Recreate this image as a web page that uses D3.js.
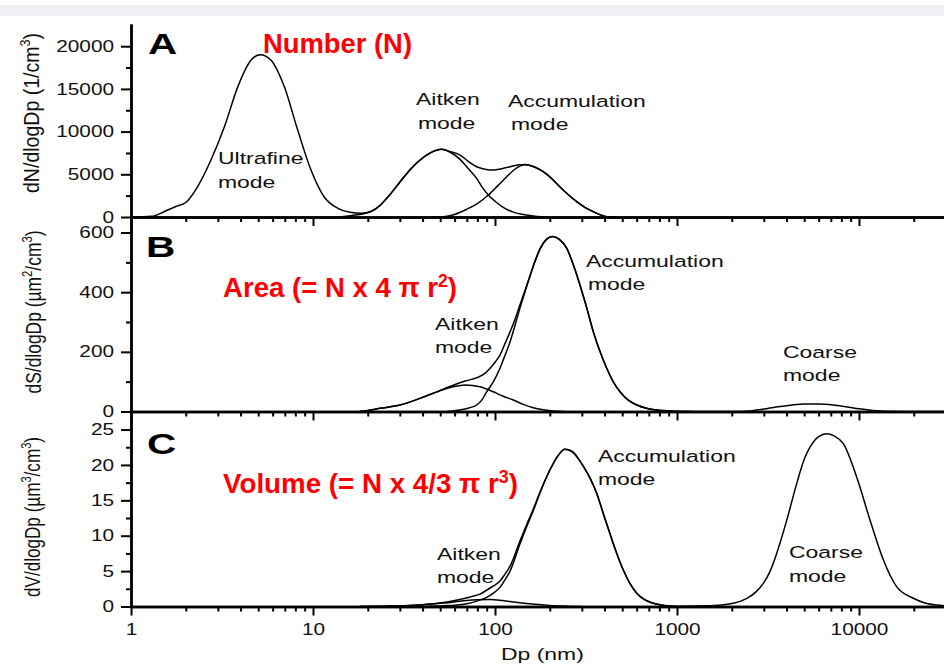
<!DOCTYPE html>
<html>
<head>
<meta charset="utf-8">
<script src="https://cdn.jsdelivr.net/npm/d3@7"></script>
<style>
  body { margin: 0; background: #fff; }
  svg { display: block; font-family: "Liberation Sans", Arial, sans-serif; }
  .tick text { font-size: 16px; fill: #111; transform-box: fill-box; }
  .yax .tick text { transform-origin: 100% 50%; transform: scaleX(1.3); }
  .xax .tick text { transform-origin: 50% 50%; transform: scaleX(1.3); }
  .domain { stroke: #000; stroke-width: 2.5; }
  .tick line { stroke: #000; stroke-width: 2; }
  .note { font-size: 17px; fill: #111; transform-box: fill-box; transform-origin: 0% 50%; transform: scaleX(1.35); }
  .letter { font-size: 30px; font-weight: bold; fill: #000; transform-box: fill-box; transform-origin: 0% 50%; transform: scaleX(1.35); }
  .red { font-size: 28px; font-weight: bold; fill: #f00; }
  .curve { fill: none; stroke: #000; stroke-width: 1.5; }
</style>
</head>
<body>
<div id="chart"></div>
<script>
"use strict";

// ---- data ----
const decadeTicks = [1, 10, 100, 1000, 10000];
const yTicksA = [0, 5000, 10000, 15000, 20000];
const yMinorA = [2500, 7500, 12500, 17500];
const yTicksB = [0, 200, 400, 600];
const yMinorB = [100, 300, 500];
const yTicksC = [0, 5, 10, 15, 20, 25];
const yMinorC = [2.5, 7.5, 12.5, 17.5, 22.5];

// A: number distribution
const aTotalDp = [1, 1.3, 1.52, 1.75, 2.0, 2.32, 2.75, 3.26, 3.86, 4.56, 5.13, 5.88, 6.96, 8.24, 9.75, 11.5, 13.7, 16, 18.4, 21, 23.3, 26.5, 30.1, 34, 38.7, 44, 50.9, 57, 64.3, 71, 79.3, 88, 97.9, 109, 121, 133, 146, 165, 184, 205, 227, 253, 281, 313, 347, 380, 411, 450];
const aTotalN = [0, 80, 620, 1200, 1700, 3540, 6670, 10560, 15240, 18360, 19000, 18360, 15240, 10180, 5500, 2370, 1020, 550, 430, 700, 1350, 2650, 4130, 5500, 6670, 7500, 7920, 7650, 7250, 6550, 5890, 5600, 5500, 5650, 5880, 6100, 6160, 5850, 5300, 4500, 3540, 2600, 1790, 1100, 620, 250, 40, 0];
const aAitkenDp = [14, 16, 18.4, 21, 23.3, 26.5, 30.1, 34, 38.7, 44, 50.9, 57, 64.3, 71, 79.3, 85, 91.9, 100, 111, 125, 149, 170, 195];
const aAitkenN = [0, 150, 330, 650, 1330, 2640, 4100, 5480, 6650, 7480, 7920, 7550, 6750, 5700, 4520, 3500, 2570, 1850, 1130, 600, 230, 70, 0];
const aAccumDp = [45, 52, 60, 69.9, 80, 91.9, 104, 116, 127, 137, 146, 165, 184, 205, 227, 253, 281, 313, 347, 380, 411, 450];
const aAccumN = [0, 40, 300, 900, 1560, 2570, 3700, 4720, 5500, 5950, 6120, 5850, 5300, 4500, 3540, 2600, 1790, 1100, 620, 250, 40, 0];

// B: surface area distribution
const bTotalDp = [18, 20, 23.3, 30.1, 38.7, 49.6, 59, 68.4, 79.3, 88, 94, 100, 106.5, 113, 121, 129, 137, 146, 156, 166, 177, 192, 207, 225, 248, 270, 293, 320, 347, 378, 411, 446, 486, 540, 601, 680, 773, 900, 1200, 2000, 2500, 3000, 3500, 4200, 5000, 6000, 7200, 8500, 10000, 12000, 14000, 17000, 30000];
const bTotalS = [0, 3, 10.7, 21.8, 44, 70, 88, 102, 113, 128, 145, 165, 189, 225, 267, 310, 357, 405, 457, 505, 547, 578, 587, 578, 547, 490, 424, 345, 267, 200, 145, 100, 66, 38, 21.8, 11, 5, 2, 0, 0, 2, 8, 15, 21, 25, 25, 22, 16, 9, 3, 0.5, 0, 0];
const bAitkenDp = [18, 20, 23.3, 30.1, 38.7, 49.6, 59, 68.4, 82.7, 97.9, 110, 126, 143, 162, 185, 209, 240];
const bAitkenS = [0, 3, 10.7, 21.8, 44, 69, 83, 89, 83, 66, 52, 38.5, 24, 12.8, 6, 2, 0];
const bAccumDp = [55, 64, 72, 79.3, 85, 90, 98, 106.5, 113, 121, 129, 137, 146, 156, 166, 177, 192, 207, 225, 248, 270, 293, 320, 347, 378, 411, 446, 486, 540, 601, 680, 773, 900, 1200];
const bAccumS = [0, 5, 12, 21.8, 40, 66, 100, 145, 185, 234, 290, 346, 400, 455, 503, 545, 577, 587, 578, 547, 490, 424, 345, 267, 200, 145, 100, 66, 38, 21.8, 11, 5, 2, 0];

// C: volume distribution
const cTotalDp = [18, 25, 32, 40, 50, 64, 73, 82.7, 90, 98, 106.5, 113, 121, 137, 150, 162, 177, 192, 210, 225, 242, 265, 285, 306, 335, 362, 395, 428, 465, 507, 550, 601, 660, 741, 850, 1000, 1520, 2040, 2420, 2700, 2980, 3250, 3530, 4010, 4550, 5000, 5380, 6000, 6640, 7300, 8200, 9710, 11500, 13600, 16100, 19900, 23000, 26700, 30000];
const cTotalV = [0, 0.05, 0.12, 0.25, 0.5, 1.0, 1.35, 1.75, 2.3, 2.9, 3.6, 4.5, 5.7, 9.2, 11.7, 13.7, 16.2, 18.3, 20.3, 21.5, 22.2, 21.9, 21.0, 19.8, 18.0, 16.0, 13.0, 10.3, 7.6, 5.15, 3.3, 1.86, 1.0, 0.45, 0.15, 0.05, 0.1, 0.45, 1.16, 2.0, 3.27, 5.0, 7.5, 12.2, 17.4, 20.8, 22.5, 24.0, 24.4, 24.1, 23.0, 18.3, 12.2, 6.6, 2.8, 1.16, 0.5, 0.2, 0.1];
const cAitkenDp = [18, 25, 32, 40, 50, 60, 70, 80, 94, 110, 130, 160, 200, 250, 300];
const cAitkenV = [0, 0.05, 0.12, 0.25, 0.45, 0.65, 0.85, 0.95, 1.0, 0.85, 0.6, 0.35, 0.15, 0.05, 0];
const cAccumDp = [40, 52, 64, 70, 80, 90, 98, 106.5, 113, 121, 137, 150, 162, 177, 192, 210, 225, 242, 265, 285, 306, 335, 362, 395, 428, 465, 507, 550, 601, 660, 741, 850, 1000];
const cAccumV = [0, 0.1, 0.25, 0.4, 0.8, 1.3, 1.9, 2.7, 3.7, 5.0, 8.8, 11.4, 13.5, 16.1, 18.3, 20.3, 21.5, 22.2, 21.9, 21.0, 19.8, 18.0, 16.0, 13.0, 10.3, 7.6, 5.15, 3.3, 1.86, 1.0, 0.45, 0.15, 0];

function DrawChart() {
  const width = 944,
    height = 671,
    left = 131;

  const svg = d3
    .select("#chart")
    .append("svg")
    .attr("width", width)
    .attr("height", height);

  svg.append("rect").attr("width", width).attr("height", height).attr("fill", "#fff");
  svg.append("rect").attr("y", 5).attr("width", width).attr("height", 11).attr("fill", "#eef0f4");

  const x = d3
    .scaleLog()
    .domain([1, 30000])
    .range([left, left + 182 * Math.log10(30000)]);

  // minor ticks 2..9 per decade
  const xMinor = [];
  decadeTicks.forEach((d) => {
    for (let k = 2; k <= 9; k++) if (d * k <= 30000) xMinor.push(d * k);
  });

  const panels = [
    {
      y: d3.scaleLinear().domain([0, 22600]).range([217, 24]),
      major: yTicksA, minor: yMinorA,
      curves: [[aTotalDp, aTotalN], [aAitkenDp, aAitkenN], [aAccumDp, aAccumN]],
      labels: false
    },
    {
      y: d3.scaleLinear().domain([0, 652]).range([411.5, 217]),
      major: yTicksB, minor: yMinorB,
      curves: [[bTotalDp, bTotalS], [bAitkenDp, bAitkenS], [bAccumDp, bAccumS]],
      labels: false
    },
    {
      y: d3.scaleLinear().domain([0, 27.55]).range([606.5, 411.5]),
      major: yTicksC, minor: yMinorC,
      curves: [[cTotalDp, cTotalV], [cAitkenDp, cAitkenV], [cAccumDp, cAccumV]],
      labels: true
    }
  ];

  panels.forEach((p) => {
    const line = d3
      .line()
      .x((d) => x(d[0]))
      .y((d) => p.y(d[1]))
      .curve(d3.curveMonotoneX);

    p.curves.forEach((c) => {
      const pts = c[0].map((dp, i) => [dp, c[1][i]]);
      svg.append("path").attr("class", "curve").attr("d", line(pts));
    });

    // y axis
    svg
      .append("g")
      .attr("class", "yax")
      .attr("transform", "translate(" + left + ",0)")
      .call(
        d3.axisLeft(p.y)
          .tickValues(p.major)
          .tickSize(10)
          .tickPadding(7)
          .tickSizeOuter(0)
          .tickFormat(d3.format("d"))
      );
    svg
      .append("g")
      .attr("transform", "translate(" + left + ",0)")
      .call(d3.axisLeft(p.y).tickValues(p.minor).tickSize(5).tickFormat("").tickSizeOuter(0));

    // x axis along this panel's zero line
    svg
      .append("g")
      .attr("class", "xax")
      .attr("transform", "translate(0," + p.y(0) + ")")
      .call(
        d3.axisBottom(x)
          .tickValues(decadeTicks)
          .tickSize(9)
          .tickPadding(8)
          .tickSizeOuter(0)
          .tickFormat(p.labels ? d3.format("d") : "")
      );
    svg
      .append("g")
      .attr("transform", "translate(0," + p.y(0) + ")")
      .call(d3.axisBottom(x).tickValues(xMinor).tickSize(5).tickFormat("").tickSizeOuter(0));
  });

  // rich text with superscripts
  function richText(sel, parts, supSize, rise) {
    parts.forEach((t, i) => {
      const sup = i % 2 === 1;
      const ts = sel.append("tspan").text(t);
      if (sup) ts.attr("font-size", supSize).attr("dy", -rise);
      else if (i > 0) ts.attr("dy", rise);
    });
    return sel;
  }

  // y axis titles
  const yTitles = [
    { parts: ["dN/dlogDp (1/cm", "3", ")"], x: 39, y: 113, len: 160 },
    { parts: ["dS/dlogDp (\u00b5m", "2", "/cm", "3", ")"], x: 41, y: 312, len: 163 },
    { parts: ["dV/dlogDp (\u00b5m", "3", "/cm", "3", ")"], x: 40, y: 517, len: 160 }
  ];
  yTitles.forEach((t) => {
    const el = svg
      .append("text")
      .attr("transform", "translate(" + t.x + "," + t.y + ") rotate(-90) scale(1,1.3)")
      .attr("text-anchor", "middle")
      .attr("font-size", 17)
      .attr("fill", "#111")
      .attr("textLength", t.len)
      .attr("lengthAdjust", "spacingAndGlyphs");
    richText(el, t.parts, 11, 7);
  });

  svg
    .append("text")
    .attr("class", "note")
    .attr("x", 501)
    .attr("y", 660)
    .text("Dp (nm)");

  // panel letters
  [["A", 148, 54], ["B", 146, 257], ["C", 147, 454]].forEach((l) => {
    svg.append("text").attr("class", "letter").attr("x", l[1]).attr("y", l[2]).text(l[0]);
  });

  // red titles
  const redTitles = [
    { parts: ["Number (N)"], x: 263, y: 53, len: 149 },
    { parts: ["Area (= N x 4 \u03c0 r", "2", ")"], x: 223, y: 297, len: 234 },
    { parts: ["Volume (= N x 4/3 \u03c0 r", "3", ")"], x: 223, y: 493, len: 295 }
  ];
  redTitles.forEach((t) => {
    const el = svg
      .append("text")
      .attr("class", "red")
      .attr("x", t.x)
      .attr("y", t.y)
      .attr("textLength", t.len)
      .attr("lengthAdjust", "spacingAndGlyphs");
    richText(el, t.parts, 18, 10);
  });

  // mode annotations
  const notes = [
    ["Ultrafine", 218, 164], ["mode", 218, 188],
    ["Aitken", 416, 105], ["mode", 418, 129],
    ["Accumulation", 508, 107], ["mode", 511, 130],
    ["Aitken", 435, 330], ["mode", 435, 353],
    ["Accumulation", 586, 267], ["mode", 588, 290],
    ["Coarse", 783, 358], ["mode", 783, 381],
    ["Aitken", 437, 560], ["mode", 437, 583],
    ["Accumulation", 598, 462], ["mode", 598, 485],
    ["Coarse", 789, 558], ["mode", 789, 582]
  ];
  notes.forEach((n) => {
    svg.append("text").attr("class", "note").attr("x", n[1]).attr("y", n[2]).text(n[0]);
  });
}

DrawChart();
</script>
</body>
</html>
